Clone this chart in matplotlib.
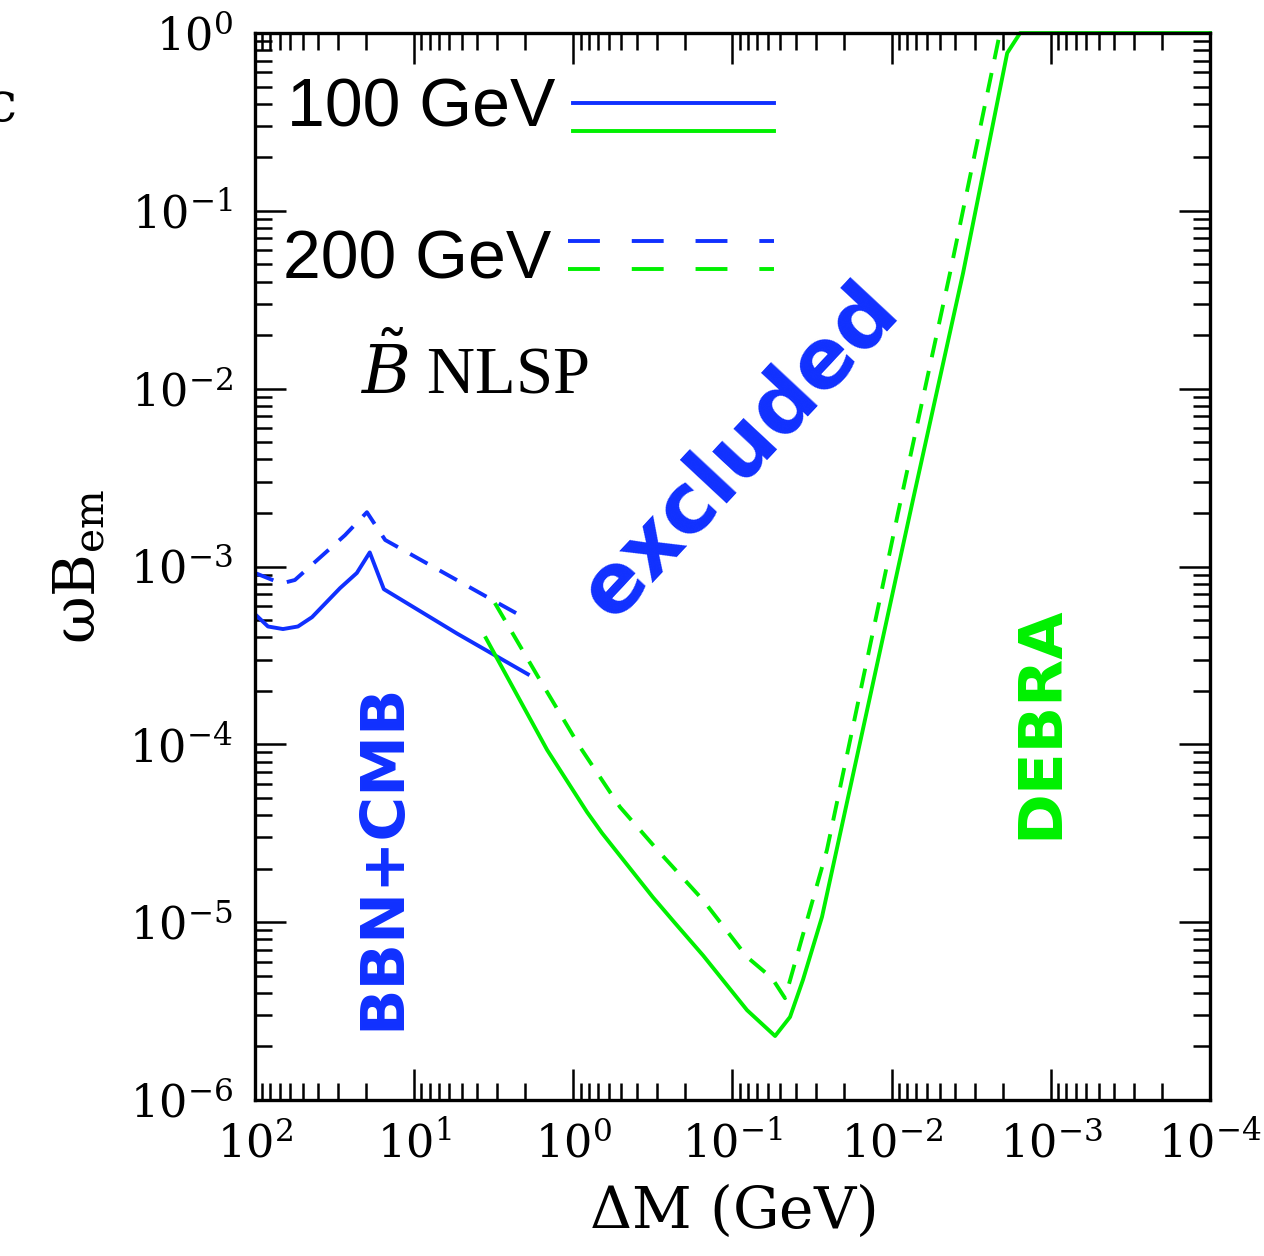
import matplotlib
matplotlib.use("Agg")
import matplotlib.pyplot as plt
from matplotlib.lines import Line2D

# data (delta M in GeV, omega*B_em)
blue_solid_dm = [100, 82.8, 66.7, 53.7, 43.8, 29.2, 22.9, 19.0, 15.5, 5.38, 1.93]
blue_solid_wb = [5.4e-4, 4.6e-4, 4.45e-4, 4.6e-4, 5.19e-4, 7.56e-4, 9.2e-4, 1.2e-3, 7.46e-4, 4.2e-4, 2.48e-4]

blue_dash_dm = [100, 71.8, 66.7, 56.1, 27.2, 19.8, 15.2, 3.2, 2.01]
blue_dash_wb = [9.2e-4, 8.17e-4, 8.07e-4, 8.4e-4, 1.5e-3, 2.02e-3, 1.41e-3, 6.46e-4, 5.13e-4]

green_solid_dm = [3.54, 1.46, 0.82, 0.66, 0.316, 0.23, 0.153, 0.081, 0.054, 0.0435, 0.0361,
                  0.0274, 0.00735, 0.00356, 0.00188, 0.00156, 1e-4]
green_solid_wb = [3.96e-4, 9.3e-5, 4.16e-5, 3.17e-5, 1.38e-5, 9.9e-6, 6.5e-6, 3.2e-6, 2.29e-6, 2.93e-6, 4.73e-6,
                  1.07e-5, 2.37e-3, 0.0447, 0.772, 1.0, 1.0]

green_dash_dm = [3.11, 1.62, 0.908, 0.509, 0.285, 0.153, 0.081, 0.0565, 0.0468, 0.0255, 0.00912,
                 0.0043, 0.00209, 1e-4]
green_dash_wb = [6.23e-4, 2.3e-4, 9.66e-5, 4.44e-5, 2.45e-5, 1.33e-5, 6.37e-6, 4.85e-6, 3.74e-6, 2.55e-5, 2.0e-3,
                 0.0447, 1.0, 1.0]

blue = "#1030ff"
green = "#00f000"

plt.rcParams["mathtext.fontset"] = "dejavuserif"
plt.rcParams["font.family"] = "DejaVu Serif"

fig = plt.figure(figsize=(12.64, 12.56), dpi=100)
ax = fig.add_axes([0.2017, 0.1242, 0.7556, 0.8495])

lw = 2.8
dd = (5.1, 3.6)
ax.plot(blue_solid_dm, blue_solid_wb, color=blue, lw=lw)
ax.plot(blue_dash_dm, blue_dash_wb, color=blue, lw=lw, dashes=dd)
ax.plot(green_solid_dm, green_solid_wb, color=green, lw=lw, clip_on=False)
ax.plot(green_dash_dm, green_dash_wb, color=green, lw=lw, dashes=dd)

ax.set_xscale("log")
ax.set_yscale("log")
ax.set_xlim(1e2, 1e-4)
ax.set_ylim(1e-6, 1)

for s in ax.spines.values():
    s.set_linewidth(2.4)
ax.tick_params(which="both", direction="in", top=True, right=True, width=1.8)
ax.tick_params(which="major", length=22, labelsize=32, pad=16)
ax.tick_params(which="minor", length=12)

ax.set_xlabel(r"$\Delta$M (GeV)", fontsize=42, labelpad=12)
ax.set_ylabel("ωB$_{\\rm em}$", fontsize=42, labelpad=16)

# legend drawn by hand
ax.add_line(Line2D([0.333, 0.543], [0.934, 0.934], transform=ax.transAxes, color=blue, lw=lw))
ax.add_line(Line2D([0.333, 0.543], [0.908, 0.908], transform=ax.transAxes, color=green, lw=lw))
ax.add_line(Line2D([0.328, 0.543], [0.805, 0.805], transform=ax.transAxes, color=blue, lw=lw, dashes=(8.2, 8.2)))
ax.add_line(Line2D([0.328, 0.543], [0.779, 0.779], transform=ax.transAxes, color=green, lw=lw, dashes=(8.2, 8.2)))
ax.text(0.034, 0.929, "100 GeV", transform=ax.transAxes, fontsize=49,
        family="Liberation Sans", va="center", ha="left")
ax.text(0.029, 0.787, "200 GeV", transform=ax.transAxes, fontsize=49,
        family="Liberation Sans", va="center", ha="left")
ax.text(0.11, 0.682, r"$\tilde{B}$ NLSP", transform=ax.transAxes, fontsize=48,
        family="Liberation Serif", va="center", ha="left")

ax.text(0.508, 0.608, "excluded", transform=ax.transAxes, fontsize=60, color=blue,
        fontweight="bold", family="DejaVu Sans", rotation=47, ha="center", va="center")
ax.text(0.134, 0.228, "BBN+CMB", transform=ax.transAxes, fontsize=44, color=blue,
        fontweight="bold", family="DejaVu Sans", rotation=90, ha="center", va="center")
ax.text(0.823, 0.354, "DEBRA", transform=ax.transAxes, fontsize=44, color=green,
        fontweight="bold", family="DejaVu Sans", rotation=90, ha="center", va="center")

fig.text(0.013, 0.916, "c", fontsize=40, ha="right", va="center")

fig.savefig("out.png", dpi=100)
